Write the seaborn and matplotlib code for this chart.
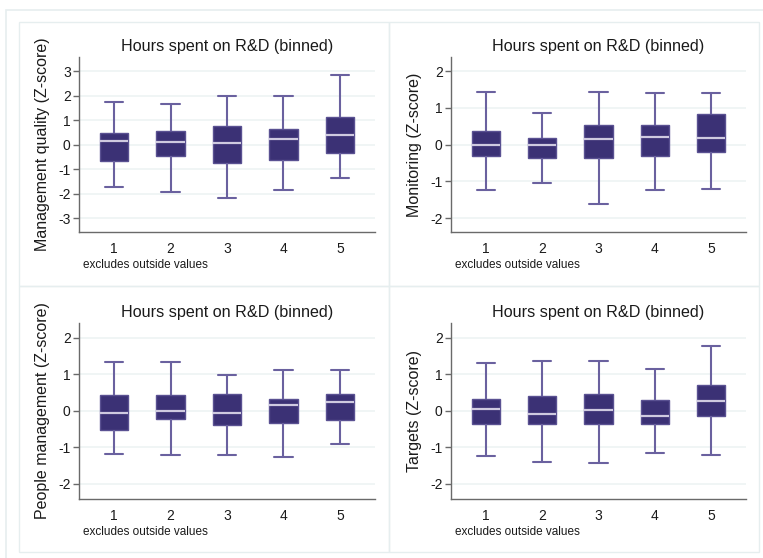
import numpy as np
import pandas as pd
import matplotlib
matplotlib.use("Agg")
import matplotlib.pyplot as plt
import seaborn as sns
from matplotlib.patches import Rectangle

# ---------------- data ----------------
bins = ["1", "2", "3", "4", "5"]
title = "Hours spent on R&D (binned)"
note = "excludes outside values"

mgmt_label = "Management quality (Z-score)"
mgmt_low = [-1.73, -1.94, -2.17, -1.86, -1.35]
mgmt_q1 = [-0.65, -0.46, -0.74, -0.61, -0.35]
mgmt_med = [0.14, 0.11, 0.08, 0.25, 0.38]
mgmt_q3 = [0.50, 0.56, 0.75, 0.64, 1.15]
mgmt_high = [1.75, 1.65, 2.00, 1.98, 2.86]
mgmt_ticks = [-3, -2, -1, 0, 1, 2, 3]

mon_label = "Monitoring (Z-score)"
mon_low = [-1.23, -1.05, -1.61, -1.23, -1.21]
mon_q1 = [-0.31, -0.35, -0.35, -0.31, -0.21]
mon_med = [0.00, -0.01, 0.16, 0.20, 0.18]
mon_q3 = [0.37, 0.19, 0.55, 0.54, 0.84]
mon_high = [1.43, 0.85, 1.43, 1.40, 1.40]

ppl_label = "People management (Z-score)"
ppl_low = [-1.17, -1.20, -1.21, -1.25, -0.90]
ppl_q1 = [-0.52, -0.21, -0.40, -0.34, -0.25]
ppl_med = [-0.05, -0.01, -0.05, 0.15, 0.24]
ppl_q3 = [0.44, 0.44, 0.46, 0.31, 0.46]
ppl_high = [1.33, 1.33, 0.99, 1.11, 1.12]

tgt_label = "Targets (Z-score)"
tgt_low = [-1.24, -1.41, -1.43, -1.15, -1.22]
tgt_q1 = [-0.36, -0.36, -0.36, -0.36, -0.15]
tgt_med = [0.05, -0.10, 0.03, -0.13, 0.26]
tgt_q3 = [0.32, 0.40, 0.47, 0.29, 0.71]
tgt_high = [1.32, 1.36, 1.36, 1.15, 1.77]
small_ticks = [-2, -1, 0, 1, 2]

# ---------------- styling ----------------
W, H = 763, 558
BOX = "#3b3175"
EDGE = "#5a5192"
WHISK = "#6a619f"
MED = "#cfcae0"
GRID = "#edf3f4"
SPINE = "#6a6a6a"
FRAME = "#e6eeef"
TEXT = "#1a1a1a"

sns.set_theme(style="white")
plt.rcParams["font.family"] = ["Liberation Sans", "DejaVu Sans"]

fig = plt.figure(figsize=(W / 100, H / 100), dpi=100)
fig.patch.set_facecolor("white")


def px_rect(x0, y0, x1, y1):
    return [x0 / W, 1 - y1 / H, (x1 - x0) / W, (y1 - y0) / H]


# outer frame and subgraph frames
fig.patches.append(Rectangle((6 / W, -0.1), 2, 1 - 9.5 / H + 0.1, transform=fig.transFigure,
                             fill=False, edgecolor=FRAME, lw=1.2, zorder=0))
for (x0, y0, x1, y1) in [(19, 22, 389, 286), (389, 22, 759, 286),
                         (19, 286, 389, 552), (389, 286, 759, 552)]:
    fig.patches.append(Rectangle((x0 / W, 1 - y1 / H), (x1 - x0) / W, (y1 - y0) / H,
                                 transform=fig.transFigure, fill=False,
                                 edgecolor=FRAME, lw=1.0, zorder=0))

panels = [
    (mgmt_label, mgmt_low, mgmt_q1, mgmt_med, mgmt_q3, mgmt_high, mgmt_ticks, (-3.57, 3.59), (79, 57, 375, 232)),
    (mon_label, mon_low, mon_q1, mon_med, mon_q3, mon_high, small_ticks, (-2.38, 2.39), (451, 57, 746, 232)),
    (ppl_label, ppl_low, ppl_q1, ppl_med, ppl_q3, ppl_high, small_ticks, (-2.41, 2.40), (79, 323, 375, 499)),
    (tgt_label, tgt_low, tgt_q1, tgt_med, tgt_q3, tgt_high, small_ticks, (-2.41, 2.40), (451, 323, 746, 499)),
]

for label, lo, q1, med, q3, hi, ticks, ylim, (x0, y0, x1, y1) in panels:
    ax = fig.add_axes(px_rect(x0, y0, x1, y1))
    rows = []
    for i, b in enumerate(bins):
        for v in (lo[i], q1[i], med[i], q3[i], hi[i]):
            rows.append({"bin": b, "z": v})
    df = pd.DataFrame(rows)
    ax.set_axisbelow(True)
    ax.yaxis.grid(True, color=GRID, lw=1.2)
    ax.xaxis.grid(False)
    sns.boxplot(data=df, x="bin", y="z", order=bins, ax=ax, color=BOX, saturation=1,
                width=0.5, whis=(0, 100), linewidth=1.4, linecolor=EDGE,
                showfliers=False,
                medianprops=dict(color=MED, lw=1.6),
                whiskerprops=dict(color=WHISK, lw=1.5),
                capprops=dict(color=WHISK, lw=1.5),
                boxprops=dict(edgecolor=EDGE, lw=1.0))
    # widen caps to match reference
    for line in ax.lines:
        xd = np.asarray(line.get_xdata(), dtype=float)
        yd = np.asarray(line.get_ydata(), dtype=float)
        if len(xd) == 2 and yd[0] == yd[1] and line.get_color() == WHISK:
            c = xd.mean()
            line.set_xdata([c - 0.16, c + 0.16])
    ax.set_xlim(-0.62, 4.62)
    ax.set_ylim(*ylim)
    ax.set_yticks(ticks)
    ax.set_yticklabels([str(t) for t in ticks])
    ax.set_xlabel("")
    ax.set_ylabel(label, fontsize=11.5, color=TEXT, labelpad=6)
    ax.set_title(title, fontsize=11.6, color=TEXT, pad=4)
    for s in ("top", "right"):
        ax.spines[s].set_visible(False)
    for s in ("left", "bottom"):
        ax.spines[s].set_color(SPINE)
        ax.spines[s].set_linewidth(1.0)
    ax.tick_params(axis="y", which="major", length=4, width=1, color=SPINE,
                   labelsize=10, labelcolor=TEXT, pad=2, left=True)
    ax.tick_params(axis="x", which="major", length=0, labelsize=10,
                   labelcolor=TEXT, pad=7)
    ax.set_facecolor("white")
    fig.text((x0 + 4) / W, 1 - (y1 + 36) / H, note, fontsize=8.5, color=TEXT,
             ha="left", va="baseline")

fig.savefig("out.png", dpi=100)
